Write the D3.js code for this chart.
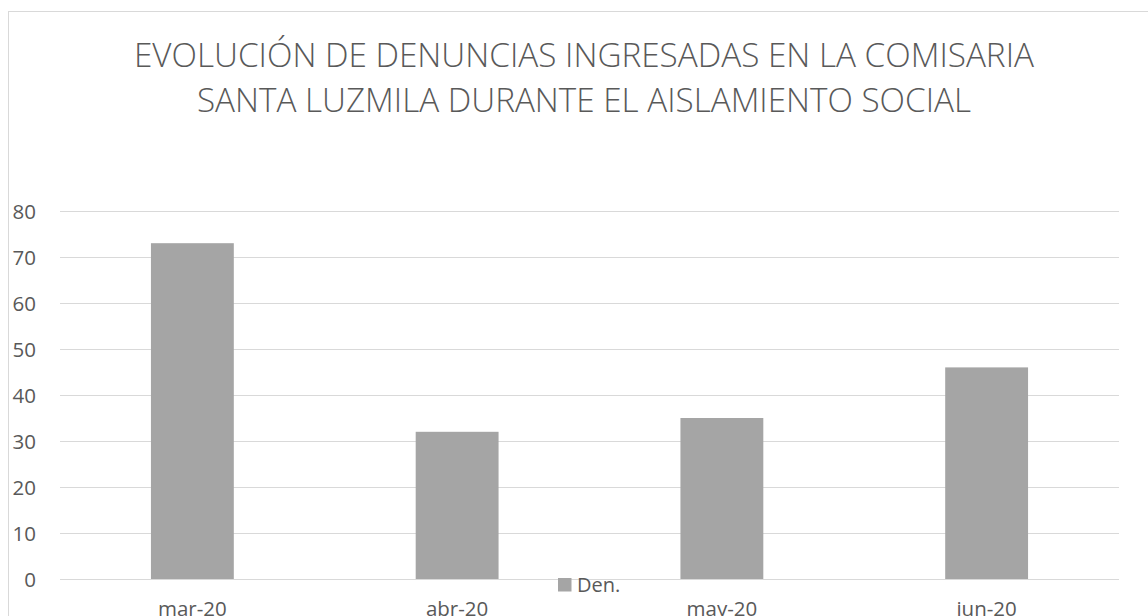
<!DOCTYPE html>
<html><head><meta charset="utf-8">
<script src="https://cdn.jsdelivr.net/npm/d3@7"></script>
<style>body{margin:0;background:#fff;}svg{display:block;}</style>
</head><body>
<script>
const categories = ["mar-20","abr-20","may-20","jun-20"];
const values = [73, 32, 35, 46];
const yTicks = [0,10,20,30,40,50,60,70,80];
const seriesName = "Den.";
const titleLines = ["EVOLUCIÓN DE DENUNCIAS INGRESADAS EN LA COMISARIA","SANTA LUZMILA DURANTE EL AISLAMIENTO SOCIAL"];
const titleWidths = [900, 774];

const W=1148,H=616;
const svg=d3.select("body").append("svg").attr("width",W).attr("height",H);
const font="'Open Sans', sans-serif";
svg.append("rect").attr("x",8.5).attr("y",11.5).attr("width",1200).attr("height",700)
  .attr("fill","#fff").attr("stroke","#d9d9d9").attr("stroke-width",1);

const x=d3.scaleBand().domain(categories).range([60,1119]).paddingInner(0.687).paddingOuter(0.3435);
const y=d3.scaleLinear().domain([0,80]).range([579,211]);

svg.append("g").selectAll("line").data(yTicks).join("line")
  .attr("x1",60).attr("x2",1119).attr("y1",d=>Math.round(y(d))+0.5).attr("y2",d=>Math.round(y(d))+0.5)
  .attr("stroke","#d9d9d9").attr("stroke-width",1);

svg.append("g").selectAll("rect").data(values).join("rect")
  .attr("x",(d,i)=>x(categories[i])).attr("width",x.bandwidth())
  .attr("y",d=>y(d)).attr("height",d=>y(0)-y(d)).attr("fill","#a5a5a5");

svg.append("g").selectAll("text").data(yTicks).join("text")
  .attr("x",36).attr("y",d=>y(d)+7.5).attr("text-anchor","end")
  .attr("font-family",font).attr("font-size",20.5).attr("fill","#595959").text(d=>d);

svg.append("g").selectAll("text").data(categories).join("text")
  .attr("x",d=>x(d)+x.bandwidth()/2).attr("y",616).attr("text-anchor","middle")
  .attr("font-family",font).attr("font-size",20.5).attr("fill","#595959").text(d=>d);

svg.append("g").selectAll("text").data(titleLines).join("text")
  .attr("x",584).attr("y",(d,i)=>67+i*45).attr("text-anchor","middle")
  .attr("textLength",(d,i)=>titleWidths[i]).attr("lengthAdjust","spacingAndGlyphs")
  .attr("font-family",font).attr("font-size",33.5).attr("font-weight",300).attr("fill","#595959").text(d=>d);

const lg=svg.append("g");
lg.append("rect").attr("x",558).attr("y",578).attr("width",13.5).attr("height",13.5).attr("fill","#a5a5a5");
lg.append("text").attr("x",577).attr("y",592).attr("font-family",font).attr("font-size",20)
  .attr("fill","#595959").text(seriesName);
</script>
</body></html>
